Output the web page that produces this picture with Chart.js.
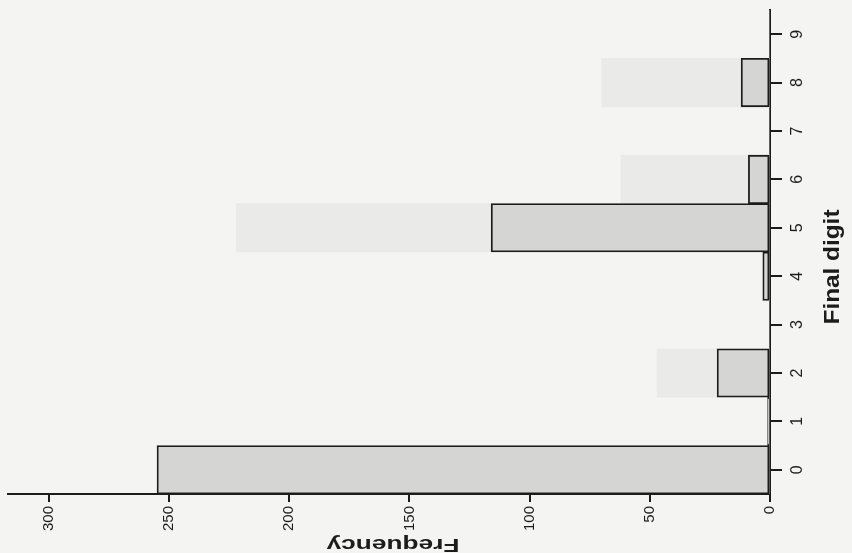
<!DOCTYPE html>
<html>
<head>
<meta charset="utf-8">
<script src="https://cdn.jsdelivr.net/npm/chart.js@4.4.1/dist/chart.umd.min.js"></script>
<style>
  html, body { margin: 0; padding: 0; background: #f4f4f2; }
  #wrap { width: 852px; height: 553px; }
</style>
</head>
<body>
<div id="wrap"><canvas id="digitChart" width="852" height="553"></canvas></div>
<script>
// final digit of reported values
const digits = ['0', '1', '2', '3', '4', '5', '6', '7', '8', '9'];
const frequency = [255, 1, 22, 0, 3, 116, 9, 0, 12, 0];
// faint show-through from the other side of the page
const showThrough = [0, 0, 47, 0, 0, 222, 62, 0, 70, 0];
const freqTicks = [0, 50, 100, 150, 200, 250, 300];

const ink = '#1c1c1c';
const narrow = '"Liberation Sans Narrow", "Liberation Sans", Arial, sans-serif';

// paper colour + the two axis titles (rotated like the scan)
const pagePlugin = {
    id: 'page',
    beforeDraw(chart) {
        const ctx = chart.ctx;
        ctx.save();
        ctx.fillStyle = '#f4f4f2';
        ctx.fillRect(0, 0, chart.width, chart.height);
        ctx.restore();
    },
    afterDraw(chart) {
        const ctx = chart.ctx;
        ctx.save();
        ctx.fillStyle = ink;
        ctx.textAlign = 'center';
        ctx.textBaseline = 'middle';

        // y title, reads bottom to top
        ctx.save();
        ctx.translate(833, 267);
        ctx.rotate(-Math.PI / 2);
        ctx.font = 'bold 22px ' + narrow;
        let w = ctx.measureText('Final digit').width;
        ctx.scale(115 / w, 1);
        ctx.fillText('Final digit', 0, 0);
        ctx.restore();

        // x title, upside down
        ctx.save();
        ctx.translate(393, 544);
        ctx.rotate(Math.PI);
        ctx.font = 'bold 19px "Liberation Sans", Arial, sans-serif';
        w = ctx.measureText('Frequency').width;
        ctx.scale(133 / w, 1);
        ctx.fillText('Frequency', 0, 0);
        ctx.restore();

        ctx.restore();
    }
};

new Chart(document.getElementById('digitChart'), {
    type: 'bar',
    data: {
        labels: digits,
        datasets: [{
            label: 'Frequency',
            data: frequency,
            backgroundColor: '#d5d5d3',
            borderColor: ink,
            borderWidth: 1.8,
            borderSkipped: false,
            barPercentage: 1,
            categoryPercentage: 1,
            grouped: false
        }, {
            label: 'show-through',
            data: showThrough,
            backgroundColor: '#eaeae8',
            borderWidth: 0,
            barPercentage: 1,
            categoryPercentage: 1,
            grouped: false
        }]
    },
    plugins: [pagePlugin],
    options: {
        responsive: false,
        animation: false,
        indexAxis: 'y',
        layout: { padding: { left: 8, top: 10, right: 0, bottom: 0 } },
        plugins: {
            legend: { display: false },
            tooltip: { enabled: false }
        },
        scales: {
            x: {
                type: 'linear',
                position: 'bottom',
                reverse: true,
                min: 0,
                max: 317,
                afterBuildTicks: scale => {
                    scale.ticks = freqTicks.map(v => ({ value: v }));
                },
                afterFit: scale => {
                    scale.height = 59;
                    scale.paddingLeft = 0;
                    scale.paddingRight = 0;
                },
                border: { display: true, color: ink, width: 2 },
                grid: { display: true, drawOnChartArea: false, drawTicks: true, tickLength: 8, color: ink, lineWidth: 2 },
                ticks: {
                    minRotation: 90,
                    maxRotation: 90,
                    padding: 4,
                    color: ink,
                    font: { family: narrow, size: 15 }
                }
            },
            y: {
                type: 'category',
                position: 'right',
                reverse: true,
                afterFit: scale => {
                    scale.width = 82;
                    scale.paddingTop = 0;
                    scale.paddingBottom = 0;
                },
                border: { display: true, color: ink, width: 2 },
                grid: { display: true, drawOnChartArea: false, drawTicks: true, offset: false, tickLength: 12, color: ink, lineWidth: 2 },
                ticks: {
                    minRotation: 90,
                    maxRotation: 90,
                    crossAlign: 'center',
                    padding: 11,
                    color: ink,
                    font: { family: narrow, size: 16 }
                }
            }
        }
    }
});
</script>
</body>
</html>
